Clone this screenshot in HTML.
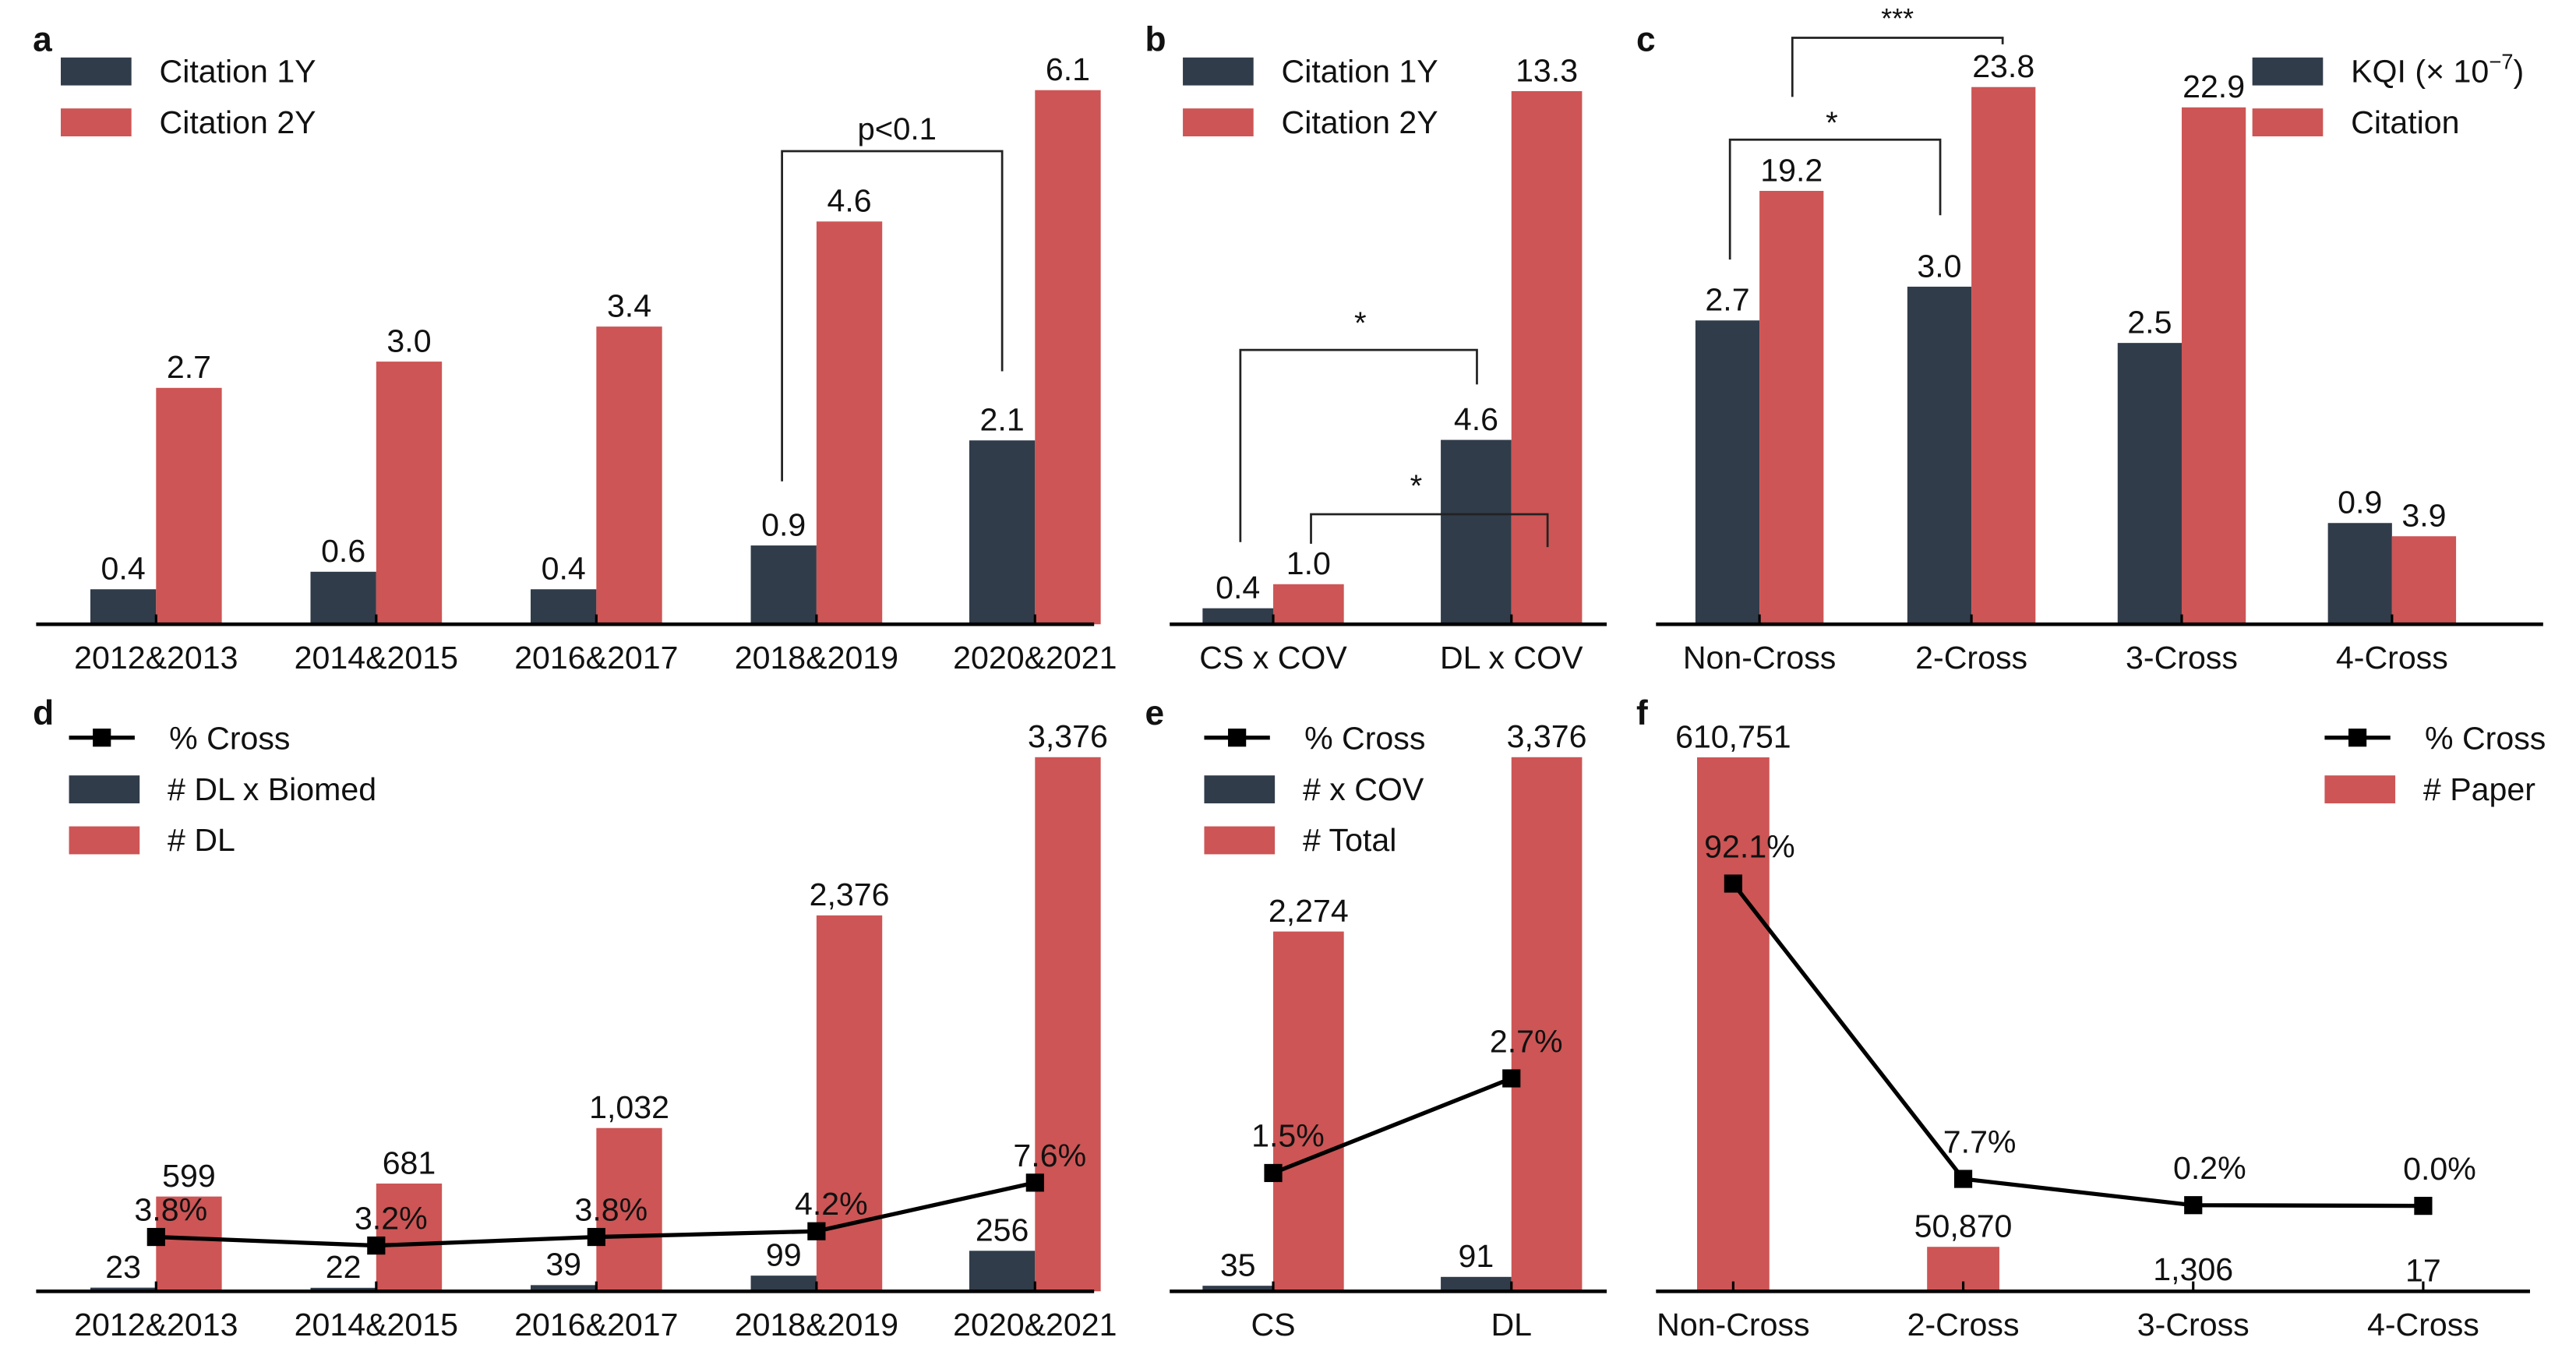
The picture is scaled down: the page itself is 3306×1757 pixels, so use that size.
<!DOCTYPE html>
<html><head><meta charset="utf-8"><style>
html,body{margin:0;padding:0;background:#fff;}
svg{display:block;font-family:"Liberation Sans",Arial,sans-serif;}
</style></head><body>
<svg id="fig" xmlns="http://www.w3.org/2000/svg" width="3306" height="1757" viewBox="0 0 1568 833.3" preserveAspectRatio="none">
<rect width="1568" height="834" fill="#fff"/>
</svg>
<script>
// ---- data ----
const yearCats = ["2012&2013","2014&2015","2016&2017","2018&2019","2020&2021"];
const aCite1Y = [0.4,0.6,0.4,0.9,2.1];
const aCite2Y = [2.7,3.0,3.4,4.6,6.1];
const bCats = ["CS x COV","DL x COV"];
const bCite1Y = [0.4,4.6];
const bCite2Y = [1.0,13.3];
const crossCats = ["Non-Cross","2-Cross","3-Cross","4-Cross"];
const cKQI = [2.7,3.0,2.5,0.9];
const cCitation = [19.2,23.8,22.9,3.9];
const dBiomed = [23,22,39,99,256];
const dDL = [599,681,1032,2376,3376];
const dPct = [3.8,3.2,3.8,4.2,7.6];
const eCats = ["CS","DL"];
const eCOV = [35,91];
const eTotal = [2274,3376];
const ePct = [1.5,2.7];
const fPaper = [610751,50870,1306,17];
const fPct = [92.1,7.7,0.2,0.0];

const DARK="#313c4a", RED="#cd5555";
const svg=document.getElementById('fig');
const NS="http://www.w3.org/2000/svg";
function el(tag,attrs,parent){const e=document.createElementNS(NS,tag);for(const k in attrs)e.setAttribute(k,attrs[k]);(parent||svg).appendChild(e);return e;}
function txt(x,y,s,size,parent,anchor,weight){const t=el('text',{x:x,y:y,'font-size':size,'text-anchor':anchor||'middle','font-weight':weight||'normal',fill:'#111'},parent);t.textContent=s;return t;}
function fmt(v){return v.toLocaleString('en-US');}

function panel(name){const g=el('g',{});return g;}

function axis(g,x0,x1,y,centers,cats){
  const l=el('line',{x1:x0,x2:x1,y1:y,y2:y,stroke:'#000','stroke-width':2.2},g);
  
  centers.forEach((c,i)=>{
    el('line',{x1:c,x2:c,y1:y,y2:y-6,stroke:'#000','stroke-width':1.5},g);
    const t=txt(c,y+27,cats[i],19.5,g);
    
  });
}
function bars(g,centers,vals,scale,base,off,w,color,fmtFn,name){
  vals.forEach((v,i)=>{
    const h=v*scale;const x=centers[i]+off;
    const r=el('rect',{x:x,y:base-h,width:w,height:h,fill:color},g);
    
    if(fmtFn){const t=txt(x+w/2,base-h-6,fmtFn(v),19.5,g);
      }
  });
}
function line(g,centers,vals,yfn,labelDx,labelDy){
  const pts=centers.map((c,i)=>c+','+yfn(vals[i])).join(' ');
  const pl=el('polyline',{points:pts,fill:'none',stroke:'#000','stroke-width':2.5},g);
  
  centers.forEach((c,i)=>{
    const y=yfn(vals[i]);
    const m=el('rect',{x:c-5.5,y:y-5.5,width:11,height:11,fill:'#000'},g);
    
    const t=txt(c+labelDx,y+labelDy,vals[i].toFixed(1)+'%',19.5,g);
    
  });
}
function legendSw(g,x,y,color,label){
  const r=el('rect',{x:x,y:y,width:43,height:17,fill:color},g);
  
  const t=txt(x+60,y+15,label,19.5,g,'start');
  
}
function legendLine(g,x,y,label){
  el('line',{x1:x,x2:x+40,y1:y,y2:y,stroke:'#000','stroke-width':2.5},g);
  el('rect',{x:x+14.5,y:y-5.5,width:11,height:11,fill:'#000'},g);
  const t=txt(x+61,y+7,label,19.5,g,'start');
  
}
function bracket(g,x1,yb1,x2,yb2,ytop,label,lx,ly,size){
  const p=el('polyline',{points:`${x1},${yb1} ${x1},${ytop} ${x2},${ytop} ${x2},${yb2}`,fill:'none',stroke:'#222','stroke-width':1.3},g);
  
  const t=txt(lx,ly,label,size||19,g);
  
}
function plabel(x,y,s){const t=txt(x,y,s,21,svg,'start','bold');}

const f1=v=>v.toFixed(1);

// Panel a
let g=panel('panel-a');
let C=[95,229,363,497,630];
bars(g,C,aCite1Y,53.3,380,-40,40,DARK,f1,'bar-citation-1y');
bars(g,C,aCite2Y,53.3,380,0,40,RED,f1,'bar-citation-2y');
axis(g,22,666,380,C,yearCats);
legendSw(g,37,35,DARK,'Citation 1Y');legendSw(g,37,66,RED,'Citation 2Y');
bracket(g,476,293,610,226,92,'p<0.1',546,85);
plabel(20,31,'a');

// Panel b
g=panel('panel-b');
C=[775,920];
bars(g,C,bCite1Y,24.4,380,-43,43,DARK,f1,'bar-citation-1y');
bars(g,C,bCite2Y,24.4,380,0,43,RED,f1,'bar-citation-2y');
axis(g,712,978,380,C,bCats);
legendSw(g,720,35,DARK,'Citation 1Y');legendSw(g,720,66,RED,'Citation 2Y');
bracket(g,755,330,899,234,213,'*',828,203);
bracket(g,798,331,942,333,313,'*',862,302);
plabel(697,31,'b');

// Panel c
g=panel('panel-c');
C=[1071,1200,1328,1456];
bars(g,C,cKQI,68.5,380,-39,39,DARK,f1,'bar-kqi');
bars(g,C,cCitation,13.74,380,0,39,RED,f1,'bar-citation');
axis(g,1008,1548,380,C,crossCats);
legendSw(g,1371,35,DARK,'');
(function(){const t=txt(1431,50,'KQI (× 10',19.5,g,'start');const s=el('tspan',{dy:-8,'font-size':13},t);s.textContent='−7';const s2=el('tspan',{dy:8},t);s2.textContent=')';})();
legendSw(g,1371,66,RED,'Citation');
bracket(g,1053,158,1181,131,85,'*',1115,81);
bracket(g,1091,59,1219,27,23,'***',1155,17,17);
plabel(996,31,'c');

// Panel d
g=panel('panel-d');
C=[95,229,363,497,630];
bars(g,C,dBiomed,0.0963,786,-40,40,DARK,fmt,'bar-dl-biomed');
bars(g,C,dDL,0.0963,786,0,40,RED,fmt,'bar-dl');
axis(g,22,666,786,C,yearCats);
line(g,C,dPct,v=>786-v*8.7,9,-10);
legendLine(g,42,449,'% Cross');legendSw(g,42,472,DARK,'# DL x Biomed');legendSw(g,42,503,RED,'# DL');
plabel(20,441,'d');

// Panel e
g=panel('panel-e');
C=[775,920];
bars(g,C,eCOV,0.0963,786,-43,43,DARK,fmt,'bar-x-cov');
bars(g,C,eTotal,0.0963,786,0,43,RED,fmt,'bar-total');
axis(g,712,978,786,C,eCats);
line(g,C,ePct,v=>786-v*48,9,-16);
legendLine(g,733,449,'% Cross');legendSw(g,733,472,DARK,'# x COV');legendSw(g,733,503,RED,'# Total');
plabel(697,441,'e');

// Panel f
g=panel('panel-f');
C=[1055,1195,1335,1475];
bars(g,C,fPaper,325/610751,786,-22,44,RED,fmt,'bar-paper');
axis(g,1008,1540,786,C,crossCats);
line(g,C,fPct,v=>734-v*2.13,10,-16);
legendLine(g,1415,449,'% Cross');legendSw(g,1415,472,RED,'# Paper');
plabel(996,441,'f');
</script>
</body></html>
